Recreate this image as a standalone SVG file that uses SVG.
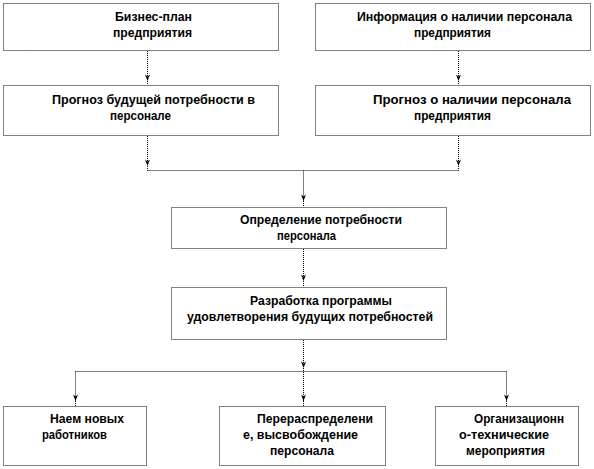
<svg xmlns="http://www.w3.org/2000/svg" width="594" height="469" viewBox="0 0 594 469">
<style>
.box{fill:#fff;stroke:#000;stroke-width:1;stroke-dasharray:1 1}
.ln{fill:none;stroke:#000;stroke-width:1;stroke-dasharray:1 1}
text{font-family:"Liberation Sans",Arial,sans-serif;font-weight:bold;font-size:12px;fill:#000}
</style>
<defs>
<marker id="ah" markerUnits="userSpaceOnUse" markerWidth="7" markerHeight="6" viewBox="0 0 7 6" refX="7" refY="3" orient="auto">
<path d="M0.5 0.5 L7 3 L0.5 5.5 L2.5 3 Z" fill="#000"/>
</marker>
</defs>
<rect width="594" height="469" fill="#fff"/>
<g id="connectors">
<path class="ln" d="M147.5 51 V81" marker-end="url(#ah)"/><path class="ln" d="M147.5 81 V85"/>
<path class="ln" d="M458.5 51 V81" marker-end="url(#ah)"/><path class="ln" d="M458.5 81 V85"/>
<path class="ln" d="M147.5 136 V166" marker-end="url(#ah)"/><path class="ln" d="M147.5 166 V170.5"/>
<path class="ln" d="M458.5 136 V166" marker-end="url(#ah)"/><path class="ln" d="M458.5 166 V170.5"/>
<path class="ln" d="M147.5 170.5 H458.5"/>
<path class="ln" d="M303.5 170.5 V201" marker-end="url(#ah)"/><path class="ln" d="M303.5 201 V207"/>
<path class="ln" d="M303.5 249 V281" marker-end="url(#ah)"/><path class="ln" d="M303.5 281 V287"/>
<path class="ln" d="M303.5 340 V368" marker-end="url(#ah)"/><path class="ln" d="M303.5 368 V401" marker-end="url(#ah)"/><path class="ln" d="M303.5 401 V406"/>
<path class="ln" d="M75.5 371.5 H506.5"/>
<path class="ln" d="M75.5 371.5 V401" marker-end="url(#ah)"/><path class="ln" d="M75.5 401 V406"/>
<path class="ln" d="M506.5 371.5 V401" marker-end="url(#ah)"/><path class="ln" d="M506.5 401 V406"/>
</g>
<g id="n1"><rect class="box" x="3.5" y="3.5" width="275" height="47"/>
<text x="115" y="21" textLength="77" lengthAdjust="spacingAndGlyphs">Бизнес-план</text>
<text x="113" y="37" textLength="79" lengthAdjust="spacingAndGlyphs">предприятия</text></g>
<g id="n2"><rect class="box" x="315.5" y="3.5" width="275" height="47"/>
<text x="357" y="21" textLength="215" lengthAdjust="spacingAndGlyphs">Информация  о наличии  персонала</text>
<text x="414" y="37" textLength="77" lengthAdjust="spacingAndGlyphs">предприятия</text></g>
<g id="n3"><rect class="box" x="3.5" y="85.5" width="275" height="50"/>
<text x="52" y="104" textLength="203" lengthAdjust="spacingAndGlyphs">Прогноз  будущей потребности  в</text>
<text x="110" y="120" textLength="61" lengthAdjust="spacingAndGlyphs">персонале</text></g>
<g id="n4"><rect class="box" x="315.5" y="85.5" width="275" height="50"/>
<text x="373" y="104" textLength="198" lengthAdjust="spacingAndGlyphs">Прогноз  о наличии  персонала</text>
<text x="414" y="120" textLength="77" lengthAdjust="spacingAndGlyphs">предприятия</text></g>
<g id="n5"><rect class="box" x="171.5" y="207.5" width="275" height="41"/>
<text x="240" y="224" textLength="162" lengthAdjust="spacingAndGlyphs">Определение  потребности</text>
<text x="277" y="240" textLength="59" lengthAdjust="spacingAndGlyphs">персонала</text></g>
<g id="n6"><rect class="box" x="171.5" y="287.5" width="275" height="52"/>
<text x="250" y="305" textLength="142" lengthAdjust="spacingAndGlyphs">Разработка  программы</text>
<text x="187" y="321" textLength="246" lengthAdjust="spacingAndGlyphs">удовлетворения  будущих потребностей</text></g>
<g id="n7"><rect class="box" x="3.5" y="406.5" width="143" height="59"/>
<text x="50" y="423" textLength="74" lengthAdjust="spacingAndGlyphs">Наем новых</text>
<text x="42" y="439" textLength="65" lengthAdjust="spacingAndGlyphs">работников</text></g>
<g id="n8"><rect class="box" x="219.5" y="406.5" width="166" height="59"/>
<text x="257" y="423" textLength="116" lengthAdjust="spacingAndGlyphs">Перераспределени</text>
<text x="243" y="439" textLength="115" lengthAdjust="spacingAndGlyphs">е, высвобождение</text>
<text x="270" y="455" textLength="64" lengthAdjust="spacingAndGlyphs">персонала</text></g>
<g id="n9"><rect class="box" x="435.5" y="406.5" width="143" height="59"/>
<text x="474" y="423" textLength="90" lengthAdjust="spacingAndGlyphs">Организационн</text>
<text x="459" y="439" textLength="90" lengthAdjust="spacingAndGlyphs">о-технические</text>
<text x="466" y="455" textLength="79" lengthAdjust="spacingAndGlyphs">мероприятия</text></g>
</svg>
